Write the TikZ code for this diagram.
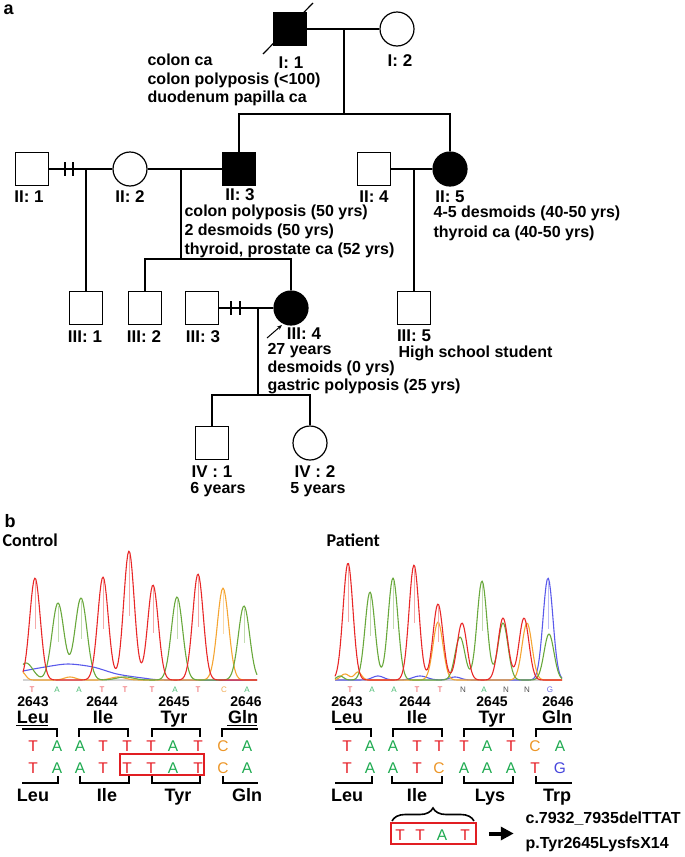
\documentclass[tikz,border=0pt]{standalone}
\usepackage{fontspec}
\setmainfont{Liberation Sans}
\newfontfamily\calfont{Carlito}
\usetikzlibrary{arrows.meta,decorations.pathreplacing}
\definecolor{nucT}{RGB}{230,30,38}
\definecolor{nucA}{RGB}{30,170,80}
\definecolor{nucC}{RGB}{236,150,40}
\definecolor{nucG}{RGB}{70,70,220}
\definecolor{nucN}{RGB}{40,40,40}
\definecolor{trR}{RGB}{232,40,40}
\definecolor{trG}{RGB}{105,168,60}
\definecolor{trO}{RGB}{245,165,50}
\definecolor{trB}{RGB}{90,90,235}
\definecolor{boxred}{RGB}{225,30,35}
\begin{document}
\begin{tikzpicture}[x=1pt,y=-1pt,line width=1.2pt,
  every node/.style={inner sep=0pt},
  male/.style={draw,minimum size=33pt},
  female/.style={draw,circle,minimum size=34pt},
  affected/.style={fill=black},
  pid/.style={anchor=base,font=\fontsize{17}{20}\selectfont\bfseries},
  note/.style={anchor=base west,font=\fontsize{16}{19}\selectfont\bfseries},
  panel/.style={anchor=base west,font=\fontsize{18}{20}\selectfont\bfseries},
  cohort/.style={anchor=base west,font=\calfont\fontsize{18}{20}\selectfont\bfseries},
  codon/.style={anchor=base,font=\fontsize{14}{16}\selectfont\bfseries},
  amino/.style={anchor=base,font=\fontsize{18}{20}\selectfont\bfseries},
  nuc/.style={anchor=base,font=\fontsize{15.5}{18}\selectfont},
  call/.style={anchor=base,font=\fontsize{8}{9}\selectfont},
  brk/.style={line width=1.8pt},
  trace/.style={line width=1.1pt,line join=round},
  declare function={pk(\x,\m,\h,\w)=\h*exp(-min(((\x-\m)/\w)^2,15));}]
\useasboundingbox (0,0) rectangle (685,857);

% a: pedigree
\node[panel] (pa) at (3,14) {a};
\node[male,affected] (I1) at (290,29) {};
\node[female] (I2) at (397,29) {};
\node[male] (II1) at (32,169) {};
\node[female] (II2) at (130,169) {};
\node[male,affected] (II3) at (239,169) {};
\node[male] (II4) at (374,169) {};
\node[female,affected] (II5) at (450,169) {};
\node[male] (III1) at (86,308) {};
\node[male] (III2) at (145,308) {};
\node[male] (III3) at (202,308) {};
\node[female,affected] (III4) at (291,308) {};
\node[male] (III5) at (414,308) {};
\node[male] (IV1) at (212,443) {};
\node[female] (IV2) at (310,443) {};

\coordinate (m1) at (344,29);
\coordinate (s1) at (344,114);
\coordinate (m21) at (86,169);
\coordinate (m23) at (181,169);
\coordinate (s23) at (181,259);
\coordinate (m45) at (414,169);
\coordinate (m34) at (258,308);
\coordinate (s34) at (258,395);

\draw (I1) -- (I2);
\draw (m1) -- (s1);
\draw (II3) |- (s1) -| (II5);
\draw (II1) -- (II2) -- (II3);
\draw (65,162) -- (65,176) (73,162) -- (73,176);
\draw (m21) -- (III1);
\draw (m23) -- (s23);
\draw (III2) |- (s23) -| (III4);
\draw (II4) -- (II5);
\draw (m45) -- (III5);
\draw (III3) -- (III4);
\draw (231,301) -- (231,315) (240,301) -- (240,315);
\draw (m34) -- (s34);
\draw (IV1) |- (s34) -| (IV2);
\draw (263,54) -- (313,3);
\draw[-{Stealth[length=5pt,width=4pt]},line width=1pt] (267,338) -- (282,325);

\node[pid] (lI1) at (291,68) {I: 1};
\node[pid] (lI2) at (400,66) {I: 2};
\node[note] (n11) at (147,65) {colon ca};
\node[note] (n12) at (147,84) {colon polyposis (<100)};
\node[note] (n13) at (147,102) {duodenum papilla ca};

\node[pid] (lII1) at (29,202) {II: 1};
\node[pid] (lII2) at (130,202) {II: 2};
\node[pid] (lII3) at (240,200) {II: 3};
\node[pid] (lII4) at (374,202) {II: 4};
\node[pid] (lII5) at (450,202) {II: 5};
\node[note] (n31) at (184,216) {colon polyposis (50 yrs)};
\node[note] (n32) at (184,235) {2 desmoids (50 yrs)};
\node[note] (n33) at (184,254) {thyroid, prostate ca (52 yrs)};
\node[note] (n51) at (433,217) {4-5 desmoids (40-50 yrs)};
\node[note] (n52) at (433,237) {thyroid ca (40-50 yrs)};

\node[pid] (lIII1) at (85,342) {III: 1};
\node[pid] (lIII2) at (144,342) {III: 2};
\node[pid] (lIII3) at (203,342) {III: 3};
\node[pid] (lIII4) at (304,339) {III: 4};
\node[pid] (lIII5) at (414,341) {III: 5};
\node[note] (n41) at (267,354) {27 years};
\node[note] (n42) at (267,372) {desmoids (0 yrs)};
\node[note] (n43) at (267,390) {gastric polyposis (25 yrs)};
\node[note] (n5) at (398,357) {High school student};

\node[pid] (lIV1) at (212,477) {IV : 1};
\node[pid] (lIV2) at (315,477) {IV : 2};
\node[note,anchor=base] (a61) at (218,493) {6 years};
\node[note,anchor=base] (a62) at (318,493) {5 years};

% b: sequencing
\node[panel] (pb) at (4,527) {b};
\node[cohort] (ctl) at (2,546) {Control};
\node[cohort] (pat) at (326,546) {Patient};

\draw[gray!35,line width=2pt] (23,680) -- (257,680);
\draw[trace,trB] plot[smooth] coordinates {(23,671) (45,667) (68,664) (93,667) (117,674) (143,678) (167,680) (257,680)};
\draw[trace,trO] plot[domain=23:257,samples=180] (\x,{680-pk(\x,223,92,8)-pk(\x,22,8,5)-pk(\x,70,3,8)-pk(\x,118,3,10)});
\draw[trace,trG] plot[domain=23:257,samples=220] (\x,{680-pk(\x,58,77,8.5)-pk(\x,81,82,8.5)-pk(\x,177,83,8)-pk(\x,244,74,8)-pk(\x,26,17,10)-pk(\x,125,3,12)});
\draw[trace,trR] plot[domain=23:257,samples=220] (\x,{680-pk(\x,35,102,7.5)-pk(\x,103,103,7.5)-pk(\x,129,129,7.5)-pk(\x,153,95,7.5)-pk(\x,198,106,7.5)});
\foreach \px/\py/\pc in {35/578/trR,58/603/trG,81/598/trG,103/577/trR,129/551/trR,153/585/trR,177/597/trG,198/574/trR,223/588/trO,244/606/trG}
  \draw[\pc!40,line width=0.8pt] (\px,\py+3) -- (\px,{(\py+680)/2});

\draw[gray!35,line width=2pt] (335,680) -- (562,680);
\draw[trace,trB] plot[domain=335:562,samples=200] (\x,{680-pk(\x,548,102,7)-pk(\x,378,4,8)-pk(\x,420,4,10)-pk(\x,455,3,8)});
\draw[trace,trO] plot[domain=335:562,samples=200] (\x,{680-pk(\x,438,58,7)-pk(\x,527,57,7)-pk(\x,345,6,6)-pk(\x,358,8,5)});
\draw[trace,trG] plot[domain=335:562,samples=220] (\x,{680-pk(\x,370,88,7)-pk(\x,393,102,7)-pk(\x,460,43,7)-pk(\x,482,99,7)-pk(\x,503,57,7)-pk(\x,549,46,7)-pk(\x,340,4,5)});
\draw[trace,trR] plot[domain=335:562,samples=220] (\x,{680-pk(\x,348,117,7)-pk(\x,414,115,7)-pk(\x,438,76,7)-pk(\x,462,57,7)-pk(\x,503,62,7)-pk(\x,524,62,7)});
\foreach \px/\py/\pc in {348/563/trR,370/592/trG,393/578/trG,414/565/trR,438/604/trR,482/581/trG,548/578/trB}
  \draw[\pc!40,line width=0.8pt] (\px,\py+3) -- (\px,{(\py+680)/2});

\foreach \px/\nb [count=\i] in {32/T,57/A,79/A,102/T,125/T,152/T,175/A,198/T,224/C,247/A}
  \node[call,text=nuc\nb!80] (cc\i) at (\px,692) {\nb};
\foreach \px/\nb [count=\i] in {350/T,372/A,394/A,417/T,440/T,463/N,484/A,506/N,527/N,550/G}
  \node[call,text=nuc\nb!80] (pc\i) at (\px,692) {\nb};

\foreach \px/\cn [count=\i] in {33/2643,102/2644,174/2645,246/2646}
  \node[codon] (cnum\i) at (\px,706) {\cn};
\foreach \px/\aa [count=\i] in {33/Leu,103/Ile,174/Tyr,243/Gln}
  \node[amino] (ctop\i) at (\px,723) {\aa};
\draw (ctop1.south west) ++(0,1.5) -- ++(32,0);
\draw (ctop4.south west) ++(0,1.5) -- ++(30,0);
\foreach \px/\nb [count=\i] in {33/T,57/A,80/A,103/T,127/T,151/T,173/A,198/T,223/C,247/A}{
  \node[nuc,text=nuc\nb] (cw\i) at (\px,751) {\nb};
  \node[nuc,text=nuc\nb] (cm\i) at (\px,773) {\nb};}
\draw[boxred,line width=1.5pt] (120,754) rectangle (204,775);
\draw[brk] (22,729) -- (57,729) -- (57,737);
\foreach \pa/\pb in {79/128,152/200}
  \draw[brk] (\pa,737) -- (\pa,729) -- (\pb,729) -- (\pb,737);
\draw[brk] (222,737) -- (222,729) -- (258,729);
\draw[brk] (22,783) -- (58,783) -- (58,776);
\foreach \pa/\pb in {80/129,152/200}
  \draw[brk] (\pa,776) -- (\pa,783) -- (\pb,783) -- (\pb,776);
\draw[brk] (223,776) -- (223,783) -- (258,783);
\foreach \px/\aa [count=\i] in {33/Leu,107/Ile,178/Tyr,247/Gln}
  \node[amino] (cbot\i) at (\px,801) {\aa};

\foreach \px/\cn [count=\i] in {347/2643,415/2644,492/2645,558/2646}
  \node[codon] (pnum\i) at (\px,706) {\cn};
\foreach \px/\aa [count=\i] in {347/Leu,417/Ile,492/Tyr,557/Gln}
  \node[amino] (ptop\i) at (\px,723) {\aa};
\foreach \px/\nb [count=\i] in {347/T,370/A,393/A,417/T,439/T,464/T,487/A,511/T,535/C,560/A}
  \node[nuc,text=nuc\nb] (pw\i) at (\px,751) {\nb};
\foreach \px/\nb [count=\i] in {347/T,370/A,393/A,417/T,439/C,464/A,487/A,511/A,535/T,560/G}
  \node[nuc,text=nuc\nb] (pm\i) at (\px,773) {\nb};
\draw[brk] (335,729) -- (371,729) -- (371,737);
\foreach \pa/\pb in {393/442,464/513}
  \draw[brk] (\pa,737) -- (\pa,729) -- (\pb,729) -- (\pb,737);
\draw[brk] (536,737) -- (536,729) -- (572,729);
\draw[brk] (335,783) -- (372,783) -- (372,776);
\foreach \pa/\pb in {392/442,464/513}
  \draw[brk] (\pa,776) -- (\pa,783) -- (\pb,783) -- (\pb,776);
\draw[brk] (536,776) -- (536,783) -- (572,783);
\foreach \px/\aa [count=\i] in {347/Leu,417/Ile,490/Lys,557/Trp}
  \node[amino] (pbot\i) at (\px,801) {\aa};

\draw[brk,line width=1.6pt,decorate,decoration={brace,amplitude=13pt}] (392,821) -- (474,821);
\node[draw=boxred,line width=1.5pt,minimum width=85pt,minimum height=21pt] (delbox) at (433.5,833.5) {};
\foreach \px/\nb [count=\i] in {400/T,420/T,442/A,465/T}
  \node[nuc,text=nuc\nb] (dl\i) at (\px,840) {\nb};
\draw[-{Triangle[length=13pt,width=13pt]},line width=4pt] ([xshift=12pt]delbox.east) -- ++(25,0);
\node[note] (cdna) at (525,823) {c.7932\_7935delTTAT};
\node[note] (prot) at (525,848) {p.Tyr2645LysfsX14};
\end{tikzpicture}
\end{document}
